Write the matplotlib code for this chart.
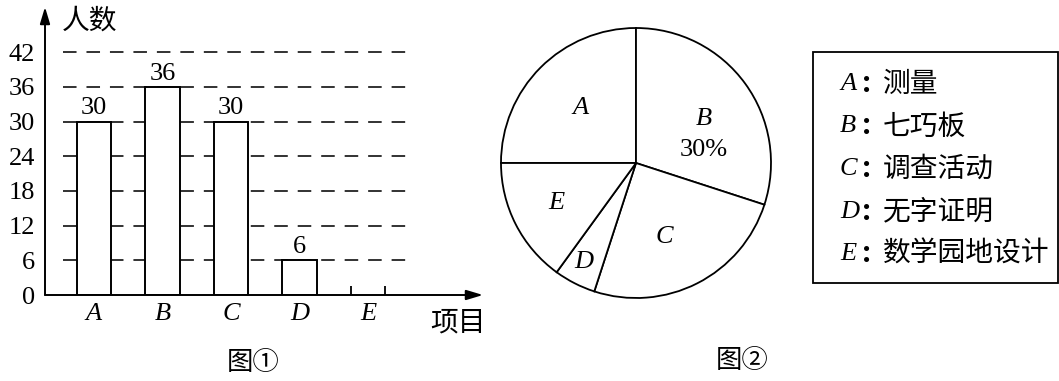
import matplotlib
matplotlib.use('Agg')
import matplotlib.pyplot as plt
from matplotlib.patches import Rectangle
import numpy as np

# data
categories = ['A', 'B', 'C', 'D', 'E']
bar_counts = [30, 36, 30, 6]          # E has no bar in the figure (to be filled in)
pie_counts = [30, 36, 30, 6, 18]      # total 120, B = 30%
yticks = [0, 6, 12, 18, 24, 30, 36, 42]
legend_names = ['测量', '七巧板', '调查活动', '无字证明', '数学园地设计']
y_label = '人数'
x_label = '项目'
captions = ['图①', '图②']

CJK = ['Noto Sans CJK SC', 'DejaVu Sans']
SERIF = 'Liberation Serif'

W, H = 1059, 381
fig = plt.figure(figsize=(W / 100, H / 100), dpi=100)

def px_box(x0, y0, x1, y1):
    # pixel box (top-left origin) -> figure fraction rect
    return [x0 / W, 1 - y1 / H, (x1 - x0) / W, (y1 - y0) / H]

# ---------------- bar chart ----------------
ax = fig.add_axes(px_box(45, 7, 483, 295))
x = np.arange(len(categories))
ax.set_xlim(-0.715, 5.68)
ax.set_ylim(0, 49.8)
for s in ax.spines.values():
    s.set_visible(False)

ax.hlines(yticks[1:], -0.45, 4.69, colors='#222222', lw=1.3,
          linestyles=(0, (7.5, 5.5)), zorder=1)

bw = 0.5
bars = ax.bar(x[:len(bar_counts)], bar_counts, width=bw, facecolor='white',
              edgecolor='black', lw=1.4, zorder=2)
for xi, v in zip(x, bar_counts):
    ax.annotate(str(v), (xi, v), xytext=(0, 1.5), textcoords='offset points',
                ha='center', va='bottom', fontsize=19, family=SERIF)
# empty slot for E
ax.vlines([x[4] - bw / 2, x[4] + bw / 2], 0, 1.6, colors='black', lw=1.3)

ax.annotate('', xy=(0, 1), xytext=(0, 0), xycoords='axes fraction',
            arrowprops=dict(arrowstyle='-|>,head_length=1.0,head_width=0.3',
                            lw=1.4, color='black', shrinkA=0, shrinkB=0))
ax.annotate('', xy=(1, 0), xytext=(0, 0), xycoords='axes fraction',
            arrowprops=dict(arrowstyle='-|>,head_length=1.0,head_width=0.3',
                            lw=1.4, color='black', shrinkA=0, shrinkB=0))

ax.set_yticks(yticks)
ax.set_yticklabels([str(t) for t in yticks], family=SERIF, fontsize=19)
ax.set_xticks(x)
ax.set_xticklabels(categories, family=SERIF, style='italic', fontsize=19)
ax.tick_params(axis='y', length=0, pad=7)
ax.tick_params(axis='x', length=0, pad=6)

# ---------------- pie chart ----------------
pax = fig.add_axes(px_box(636 - 135, 163 - 135, 636 + 135, 163 + 135))
wedges, _ = pax.pie(pie_counts, startangle=180, counterclock=False, radius=1,
                    colors=['white'] * 5,
                    wedgeprops=dict(edgecolor='black', linewidth=1.3))
pax.set_xlim(-1, 1)
pax.set_ylim(-1, 1)
pax.axis('off')

label_r = [0.58, 0.55, 0.59, 0.83, 0.66]
label_da = [0, -12, -6, -1, 0]
total = sum(pie_counts)
for i, w in enumerate(wedges):
    a = np.deg2rad((w.theta1 + w.theta2) / 2 + label_da[i])
    lx, ly = label_r[i] * np.cos(a), label_r[i] * np.sin(a)
    if categories[i] == 'B':
        pax.text(lx, ly + 0.1, categories[i], ha='center', va='center',
                 family=SERIF, style='italic', fontsize=19)
        pax.text(lx, ly - 0.13, '%d%%' % round(pie_counts[i] / total * 100),
                 ha='center', va='center', family=SERIF, fontsize=19)
    else:
        pax.text(lx, ly, categories[i], ha='center', va='center',
                 family=SERIF, style='italic', fontsize=19)

# ---------------- overlay: legend box, titles ----------------
ov = fig.add_axes([0, 0, 1, 1])
ov.set_xlim(0, W)
ov.set_ylim(H, 0)
ov.axis('off')

ov.text(62, 21, y_label, family=CJK, fontsize=20, va='center', ha='left')
ov.text(430, 322, x_label, family=CJK, fontsize=20, va='center', ha='left')
ov.text(253, 362, captions[0], family=CJK, fontsize=19, va='center', ha='center')
ov.text(742, 360, captions[1], family=CJK, fontsize=19, va='center', ha='center')

ov.add_patch(Rectangle((813, 52), 245, 231, fill=False, edgecolor='black', lw=1.3))
for i, (c, name) in enumerate(zip(categories, legend_names)):
    yy = 84 + 42.5 * i
    ov.text(840, yy, c, family=SERIF, style='italic', fontsize=19,
            va='center', ha='left')
    ov.text(862, yy, ':', family=CJK, fontsize=20, va='center', ha='left',
            fontweight='bold')
    ov.text(883, yy, name, family=CJK, fontsize=20, va='center', ha='left')

fig.savefig('out.png', dpi=100)
